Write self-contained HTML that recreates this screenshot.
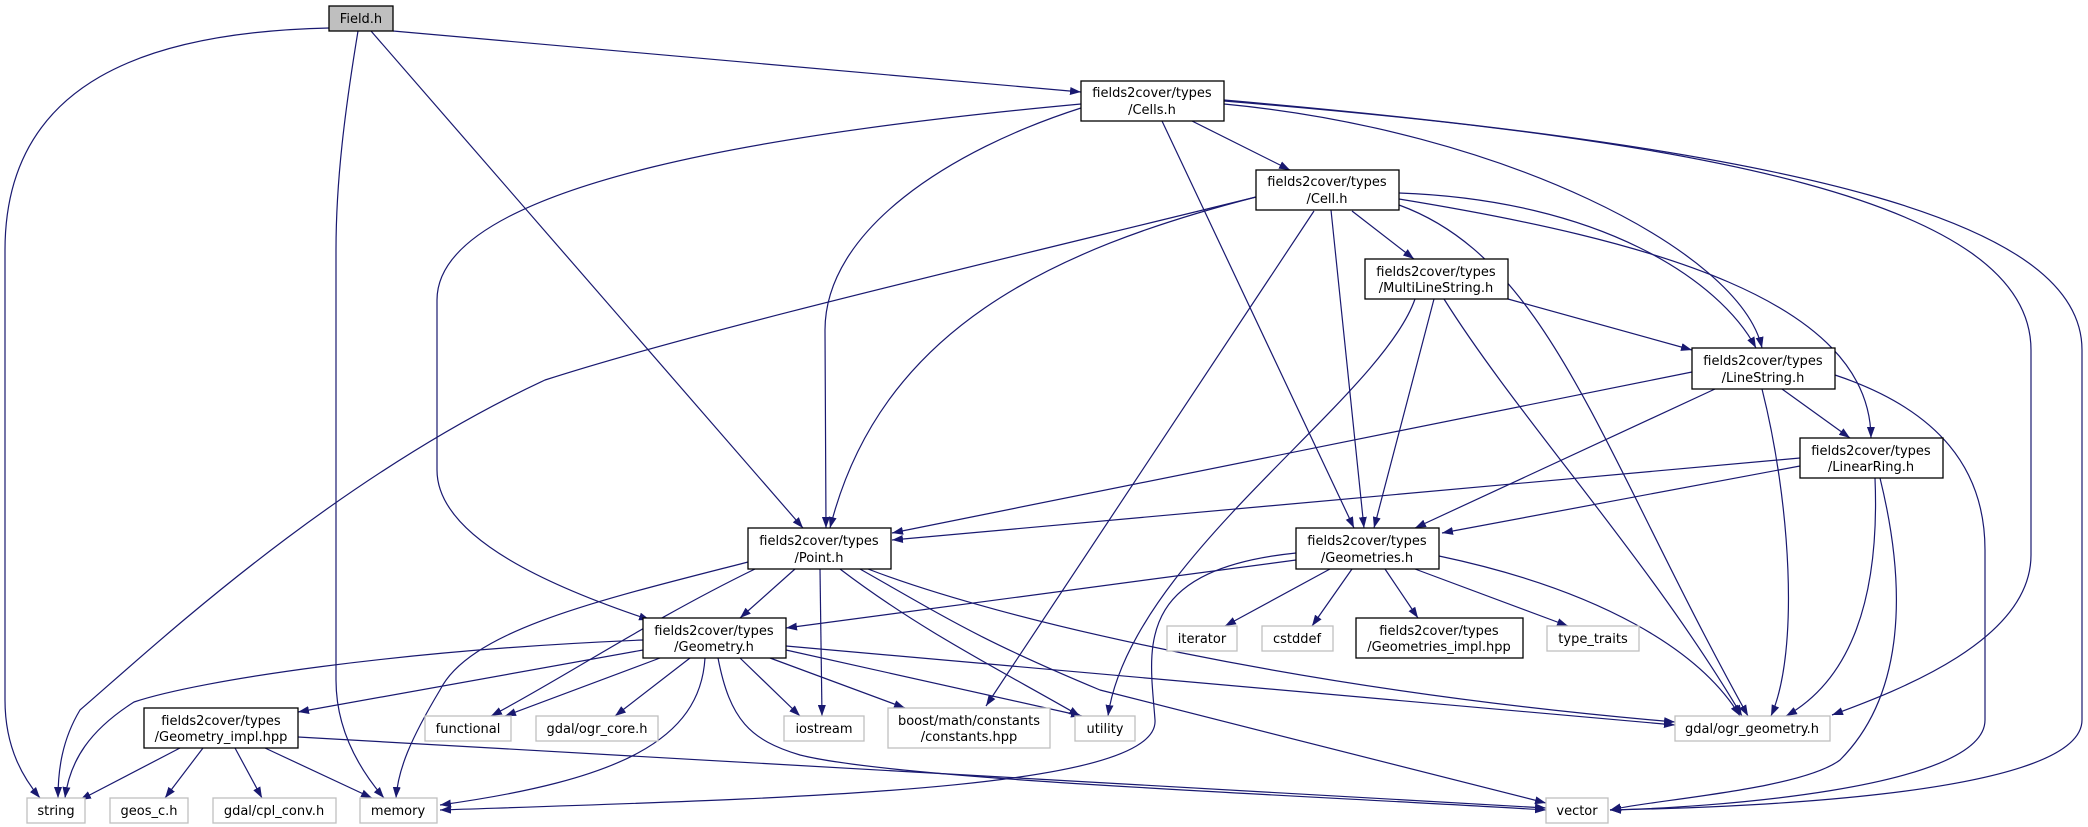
<!DOCTYPE html>
<html><head><meta charset="utf-8"><style>
html,body{margin:0;padding:0;background:#fff;}
svg{display:block;}
text{font-family:"DejaVu Sans","Liberation Sans",sans-serif;font-size:13px;fill:#000;}
.n{fill:#fff;stroke:#000;stroke-width:1.3;}
.g{fill:#fff;stroke:#bfbfbf;stroke-width:1.3;}
path.e{fill:none;stroke:#191970;stroke-width:1.2;marker-end:url(#a);}
</style></head><body>
<svg width="2088" height="827" viewBox="0 0 2088 827" xmlns="http://www.w3.org/2000/svg">
<defs><marker id="a" markerUnits="userSpaceOnUse" markerWidth="11" markerHeight="8" refX="11" refY="4" orient="auto"><path d="M0,0 L11,4 L0,8 z" fill="#191970"/></marker></defs>

<!-- edges -->
<path class="e" d="M329,28 C150,32 5,80 5,250 L5,700 C5,750 25,780 40,798"/>
<path class="e" d="M358,31 C345,110 336,180 336,250 L336,680 C336,730 360,770 384,798"/>
<path class="e" d="M371,31 L803,528"/>
<path class="e" d="M393,31 L1081,92"/>
<path class="e" d="M1192,121 L1290,170"/>
<path class="e" d="M1081,108 C950,150 825,230 825,330 L826,528"/>
<path class="e" d="M1256,197 C1050,250 880,330 830,528"/>
<path class="e" d="M1081,104 C800,130 437,180 437,300 L437,470 C437,540 560,590 650,620"/>
<path class="e" d="M1162,121 L1354,528"/>
<path class="e" d="M1331,210 L1364,528"/>
<path class="e" d="M1434,299 L1374,528"/>
<path class="e" d="M1715,389 L1415,528"/>
<path class="e" d="M1800,466 L1442,533"/>
<path class="e" d="M1692,372 L892,533"/>
<path class="e" d="M1800,458 L892,540"/>
<path class="e" d="M1352,211 L1414,259"/>
<path class="e" d="M1224,104 C1500,130 1740,250 1762,348"/>
<path class="e" d="M1399,193 C1600,200 1720,280 1756,348"/>
<path class="e" d="M1508,299 L1692,350"/>
<path class="e" d="M1782,389 L1850,438"/>
<path class="e" d="M1399,199 C1650,240 1870,300 1871,438"/>
<path class="e" d="M1224,101 C1700,140 2031,200 2031,350 L2031,555 C2031,640 1900,690 1832,715"/>
<path class="e" d="M1224,100 C1800,150 2082,220 2082,350 L2082,720 C2082,800 1700,808 1610,810"/>
<path class="e" d="M1399,205 C1550,260 1600,450 1748,716"/>
<path class="e" d="M1444,299 C1520,420 1650,560 1742,716"/>
<path class="e" d="M1762,389 C1790,500 1800,650 1771,716"/>
<path class="e" d="M1875,478 C1880,600 1850,680 1786,716"/>
<path class="e" d="M1880,478 C1910,600 1900,700 1840,760 C1800,790 1650,800 1610,810"/>
<path class="e" d="M1835,375 C1940,410 1985,470 1985,550 L1985,720 C1985,790 1700,808 1610,810"/>
<path class="e" d="M795,569 L740,618"/>
<path class="e" d="M755,569 C650,620 560,680 491,716"/>
<path class="e" d="M820,569 L822,716"/>
<path class="e" d="M840,569 C920,630 1000,670 1080,716"/>
<path class="e" d="M748,562 C600,600 470,630 440,690 C410,740 398,770 396,798"/>
<path class="e" d="M868,569 C1000,620 1300,690 1675,722"/>
<path class="e" d="M860,569 C950,620 980,640 1100,690 L1546,803"/>
<path class="e" d="M786,646 L1675,725"/>
<path class="e" d="M718,658 C730,720 750,740 800,755 C900,780 1300,795 1546,810"/>
<path class="e" d="M770,658 L905,708"/>
<path class="e" d="M740,658 L800,716"/>
<path class="e" d="M786,650 L1082,716"/>
<path class="e" d="M690,658 L615,716"/>
<path class="e" d="M660,658 L505,716"/>
<path class="e" d="M643,650 L298,712"/>
<path class="e" d="M643,640 C400,650 200,680 134,702 C90,730 70,760 65,798"/>
<path class="e" d="M705,658 C700,740 620,780 440,805"/>
<path class="e" d="M1296,553 C1130,570 1150,650 1155,720 C1160,790 800,798 440,810"/>
<path class="e" d="M1296,560 L786,628"/>
<path class="e" d="M1330,569 L1225,626"/>
<path class="e" d="M1352,569 L1312,626"/>
<path class="e" d="M1385,569 L1418,618"/>
<path class="e" d="M1415,569 L1568,626"/>
<path class="e" d="M1439,556 C1600,590 1700,650 1740,716"/>
<path class="e" d="M1314,211 L986,706"/>
<path class="e" d="M1415,299 C1380,400 1130,560 1108,716"/>
<path class="e" d="M1256,197 C1000,260 700,330 545,380 C330,480 150,650 80,710 C62,740 58,770 58,798"/>
<path class="e" d="M180,748 L80,800"/>
<path class="e" d="M203,748 L165,798"/>
<path class="e" d="M235,748 L262,798"/>
<path class="e" d="M265,748 L372,798"/>
<path class="e" d="M298,737 L1546,808"/>

<!-- nodes -->
<rect x="329" y="6" width="64" height="25" fill="#bfbfbf" stroke="#000" stroke-width="1.3"/>
<text x="361" y="23" text-anchor="middle">Field.h</text>

<g text-anchor="middle">
<rect class="n" x="1081" y="81" width="143" height="40"/><text x="1152" y="97">fields2cover/types</text><text x="1152" y="114">/Cells.h</text>
<rect class="n" x="1256" y="170" width="143" height="40"/><text x="1327" y="186">fields2cover/types</text><text x="1327" y="203">/Cell.h</text>
<rect class="n" x="1365" y="259" width="143" height="40"/><text x="1436" y="276">fields2cover/types</text><text x="1436" y="292">/MultiLineString.h</text>
<rect class="n" x="1692" y="348" width="143" height="41"/><text x="1763" y="365">fields2cover/types</text><text x="1763" y="382">/LineString.h</text>
<rect class="n" x="1800" y="438" width="143" height="40"/><text x="1871" y="455">fields2cover/types</text><text x="1871" y="471">/LinearRing.h</text>
<rect class="n" x="748" y="528" width="143" height="41"/><text x="819" y="545">fields2cover/types</text><text x="819" y="562">/Point.h</text>
<rect class="n" x="1296" y="528" width="143" height="41"/><text x="1367" y="545">fields2cover/types</text><text x="1367" y="562">/Geometries.h</text>
<rect class="n" x="643" y="618" width="143" height="40"/><text x="714" y="635">fields2cover/types</text><text x="714" y="651">/Geometry.h</text>
<rect class="n" x="144" y="708" width="154" height="40"/><text x="221" y="725">fields2cover/types</text><text x="221" y="741">/Geometry_impl.hpp</text>
<rect class="n" x="1356" y="618" width="167" height="40"/><text x="1439" y="635">fields2cover/types</text><text x="1439" y="651">/Geometries_impl.hpp</text>

<rect class="g" x="425" y="716" width="86" height="25"/><text x="468" y="733">functional</text>
<rect class="g" x="536" y="716" width="122" height="25"/><text x="597" y="733">gdal/ogr_core.h</text>
<rect class="g" x="784" y="716" width="80" height="25"/><text x="824" y="733">iostream</text>
<rect class="g" x="888" y="708" width="162" height="40"/><text x="969" y="725">boost/math/constants</text><text x="969" y="741">/constants.hpp</text>
<rect class="g" x="1075" y="716" width="60" height="25"/><text x="1105" y="733">utility</text>
<rect class="g" x="1167" y="626" width="70" height="25"/><text x="1202" y="643">iterator</text>
<rect class="g" x="1262" y="626" width="71" height="25"/><text x="1297" y="643">cstddef</text>
<rect class="g" x="1547" y="626" width="92" height="25"/><text x="1593" y="643">type_traits</text>
<rect class="g" x="1675" y="716" width="155" height="25"/><text x="1752" y="733">gdal/ogr_geometry.h</text>
<rect class="g" x="27" y="798" width="58" height="25"/><text x="56" y="815">string</text>
<rect class="g" x="110" y="798" width="78" height="25"/><text x="149" y="815">geos_c.h</text>
<rect class="g" x="213" y="798" width="123" height="25"/><text x="274" y="815">gdal/cpl_conv.h</text>
<rect class="g" x="360" y="798" width="77" height="25"/><text x="398" y="815">memory</text>
<rect class="g" x="1546" y="798" width="62" height="25"/><text x="1577" y="815">vector</text>
</g>
</svg>
</body></html>
